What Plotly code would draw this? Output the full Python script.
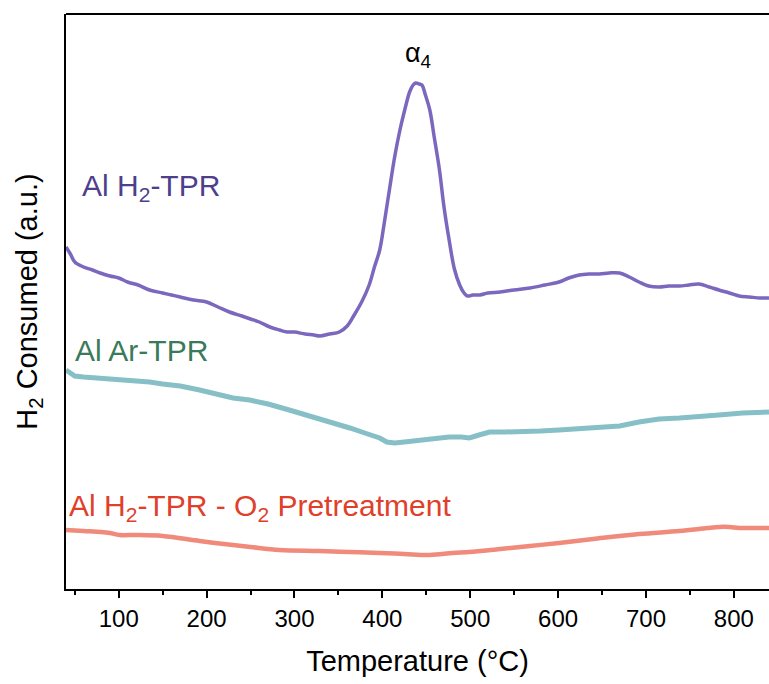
import plotly.graph_objects as go

# Temperature (°C) and signal (arbitrary units)
temp_h2 = [40, 45, 50, 60, 70, 79, 90, 100, 110, 122, 135, 150, 160, 170, 185, 200, 213, 226, 240,
           250, 260, 272, 283, 292, 300, 312, 322, 329, 340, 351, 360, 368, 377, 385, 391, 397, 402,
           408, 414, 420, 426, 431, 435, 438, 442, 445, 449, 454, 459, 465, 470, 476, 482, 488, 493,
           497, 503, 511, 520, 534, 550, 568, 585, 601, 612, 624, 635, 647, 658, 670, 681, 692, 703,
           715, 726, 738, 749, 760, 772, 783, 795, 806, 818, 830, 840]
sig_h2 = [342, 335, 327, 322, 319, 316, 313, 311, 307, 304, 299, 296, 294, 292, 289, 287, 282, 277, 273,
          270, 267, 262, 259, 257, 257, 255, 254, 253, 255, 257, 263, 274, 288, 304, 322, 339, 365,
          399, 432, 459, 481, 497, 504, 506, 505, 504, 494, 479, 452, 419, 383, 349, 320, 304, 296,
          293, 294, 294, 296, 297, 299, 301, 304, 307, 311, 314, 315, 315, 316, 316, 312, 307, 303,
          302, 303, 303, 304, 305, 302, 299, 296, 293, 292, 291, 291]

temp_ar = [40, 50, 60, 78, 100, 120, 135, 150, 170, 192, 210, 230, 249, 270, 294, 310, 329, 345, 363,
           380, 397, 405, 414, 425, 442, 460, 476, 490, 499, 510, 522, 540, 556, 580, 601, 625, 647,
           670, 692, 715, 738, 760, 783, 810, 840]
sig_ar = [219, 213, 212, 211, 209, 208, 207, 205, 203, 199, 195, 191, 189, 185, 179, 175, 169, 165, 161,
          156, 151, 147, 146, 147, 149, 151, 152, 152, 151, 154, 157, 157, 157, 158, 159, 160, 161,
          163, 167, 170, 171, 172, 174, 176, 177]

temp_o2 = [40, 60, 80, 90, 101, 120, 150, 192, 220, 250, 283, 329, 363, 397, 425, 454, 480, 499, 534,
           568, 601, 640, 692, 738, 770, 783, 795, 806, 820, 840]
sig_o2 = [59, 58, 57, 56, 54, 54, 53, 48, 45, 42, 39, 38, 37, 36, 35, 34, 36, 37, 40,
          43, 46, 50, 55, 58, 61, 62, 62, 61, 61, 61]

fig = go.Figure()
fig.add_trace(go.Scatter(x=temp_o2, y=sig_o2, mode="lines", line_shape="spline",
                         line=dict(color="#F08A7A", width=4.5), showlegend=False))
fig.add_trace(go.Scatter(x=temp_ar, y=sig_ar, mode="lines",
                         line=dict(color="#86C0C6", width=5), showlegend=False))
fig.add_trace(go.Scatter(x=temp_h2, y=sig_h2, mode="lines", line_shape="spline",
                         line=dict(color="#7B68BE", width=3.5), showlegend=False))

font = "Liberation Sans, Arial, sans-serif"
ann = [
    dict(x=56, y=589 - 187, text="Al H<sub>2</sub>-TPR", color="#4E3F8C"),
    dict(x=48, y=589 - 350, text="Al Ar-TPR", color="#3A7A5A"),
    dict(x=41, y=589 - 507, text="Al H<sub>2</sub>-TPR - O<sub>2</sub> Pretreatment", color="#E0402A"),
]
for a in ann:
    fig.add_annotation(x=a["x"], y=a["y"], xref="x", yref="y", text=a["text"], showarrow=False,
                       xanchor="left", yanchor="middle",
                       font=dict(family=font, size=30, color=a["color"]))
fig.add_annotation(x=441, y=589 - 55, xref="x", yref="y", text="α<sub>4</sub>", showarrow=False,
                   xanchor="center", yanchor="middle", font=dict(family=font, size=27, color="black"))

fig.update_layout(
    width=769, height=684,
    margin=dict(l=66, r=0, t=14, b=95),
    paper_bgcolor="white", plot_bgcolor="white",
    font=dict(family=font, color="black"),
    xaxis=dict(range=[40, 840], tickmode="array", tickvals=[100, 200, 300, 400, 500, 600, 700, 800],
               ticks="outside", ticklen=7, tickwidth=2, tickcolor="black",
               minor=dict(tickvals=[50, 150, 250, 350, 450, 550, 650, 750], ticks="outside",
                          ticklen=4, tickwidth=2, tickcolor="black"),
               showline=True, linecolor="black", linewidth=2, mirror=False,
               showgrid=False, zeroline=False,
               tickfont=dict(size=24, family=font),
               title=dict(text="Temperature (°C)", font=dict(size=29, family=font), standoff=20)),
    yaxis=dict(range=[0, 575], showticklabels=False, ticks="",
               showline=True, linecolor="black", linewidth=2,
               showgrid=False, zeroline=False,
               title=dict(text="H<sub>2</sub> Consumed (a.u.)", font=dict(size=29, family=font), standoff=18)),
)
fig.add_shape(type="line", xref="paper", yref="paper", x0=0, x1=1, y0=1, y1=1,
              line=dict(color="black", width=2))

fig.write_html("out.html")
